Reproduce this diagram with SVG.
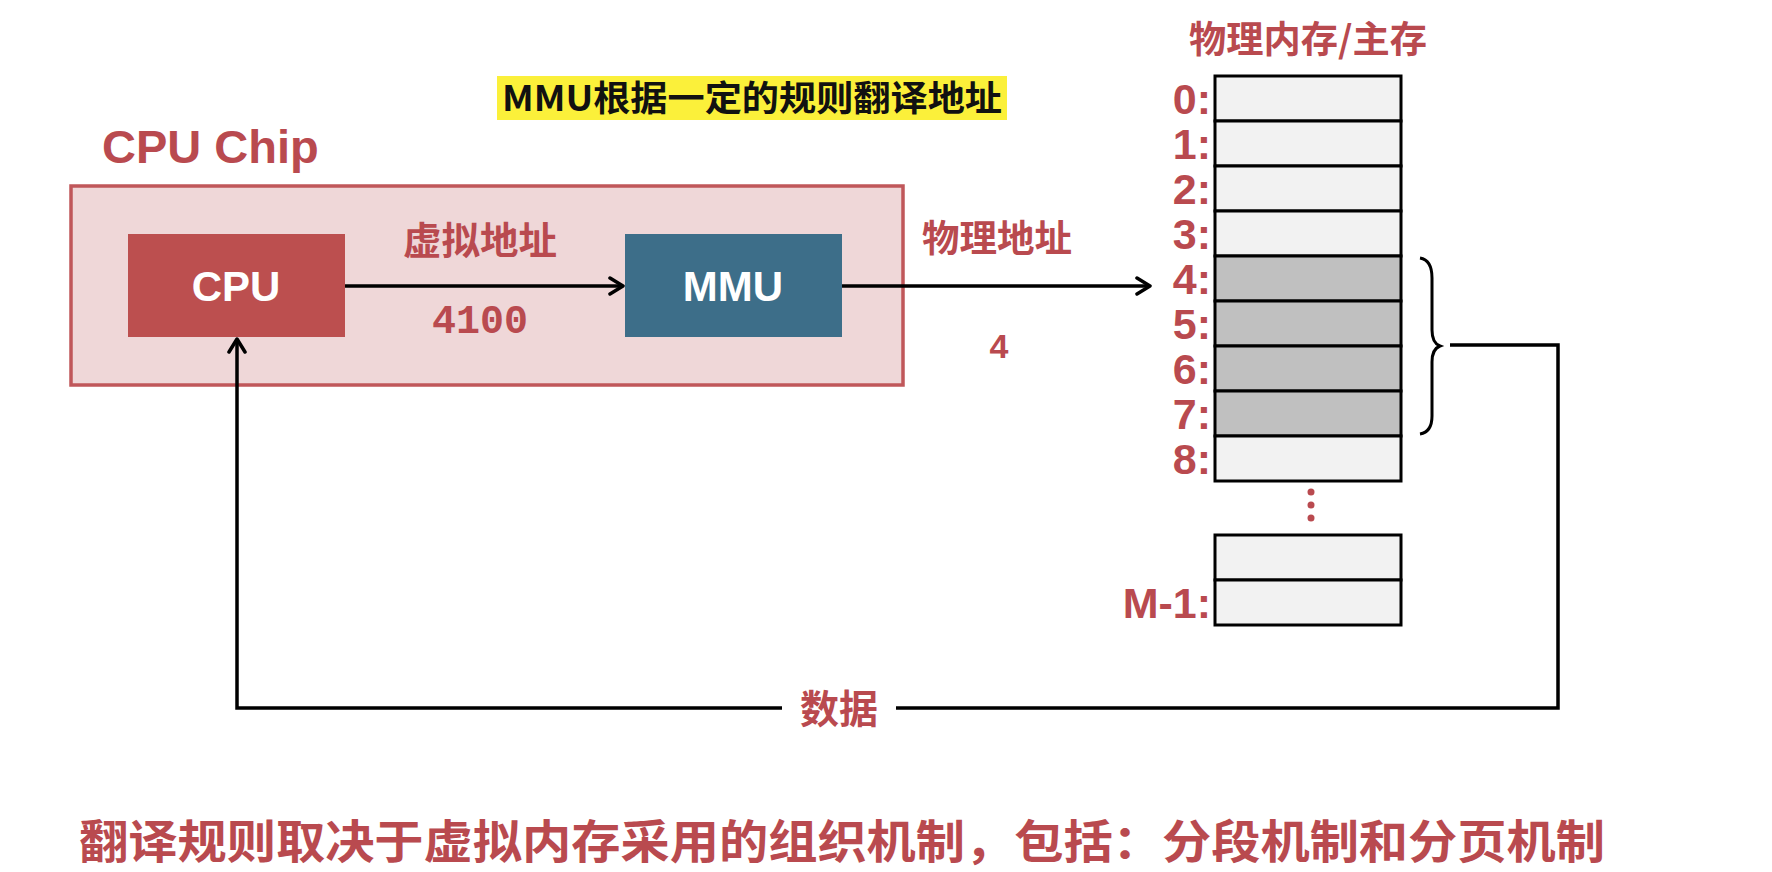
<svg xmlns="http://www.w3.org/2000/svg" width="1772" height="872" viewBox="0 0 1772 872">
<defs>
<style>
.red{fill:#b94a4f;font-family:"Liberation Sans","Noto Sans CJK SC",sans-serif;font-weight:bold}
.cjk{font-family:"Noto Sans CJK SC","Liberation Sans",sans-serif;font-weight:bold}
.w{fill:#ffffff;font-family:"Liberation Sans",sans-serif;font-weight:bold;font-size:42px}
.cell{fill:#f2f2f2;stroke:#000;stroke-width:3}
.gray{fill:#c0c0c0;stroke:#000;stroke-width:3}
.idx{fill:#b94a4f;font-family:"Liberation Sans",sans-serif;font-weight:bold;font-size:43px;text-anchor:end}
.ln{fill:none;stroke:#000;stroke-width:3.5}
</style>
<marker id="ah" viewBox="0 0 20 20" refX="17" refY="10" markerWidth="20" markerHeight="20" markerUnits="userSpaceOnUse" orient="auto">
<path d="M4,2 L17,10 L4,18" fill="none" stroke="#000" stroke-width="3.5" stroke-linecap="round" stroke-linejoin="round"/>
</marker>
</defs>
<rect width="1772" height="872" fill="#ffffff"/>

<g id="rule-note">
<rect x="497" y="76" width="510" height="44" fill="#fbf03a"/>
<text x="752" y="111" text-anchor="middle" class="cjk" font-size="35" fill="#111" textLength="500" lengthAdjust="spacingAndGlyphs">MMU根据一定的规则翻译地址</text>
</g>

<g id="cpu-chip">
<text x="102" y="163" class="red" font-size="47" font-weight="600">CPU Chip</text>
<rect x="71" y="186" width="832" height="199" fill="#efd7d8" stroke="#c0575a" stroke-width="3.5"/>
</g>

<g id="cpu">
<rect x="128" y="234" width="217" height="103" fill="#bc4f4f"/>
<text x="236" y="301" text-anchor="middle" class="w">CPU</text>
</g>

<g id="mmu">
<rect x="625" y="234" width="217" height="103" fill="#3d6e89"/>
<text x="733" y="301" text-anchor="middle" class="w">MMU</text>
</g>

<g id="memory">
<text x="1308" y="53" text-anchor="middle" class="cjk" font-size="37" fill="#b94a4f" textLength="238" lengthAdjust="spacingAndGlyphs">物理内存/主存</text>
<rect class="cell" x="1215" y="76" width="186" height="45"/>
<rect class="cell" x="1215" y="121" width="186" height="45"/>
<rect class="cell" x="1215" y="166" width="186" height="45"/>
<rect class="cell" x="1215" y="211" width="186" height="45"/>
<rect class="gray" x="1215" y="256" width="186" height="45"/>
<rect class="gray" x="1215" y="301" width="186" height="45"/>
<rect class="gray" x="1215" y="346" width="186" height="45"/>
<rect class="gray" x="1215" y="391" width="186" height="45"/>
<rect class="cell" x="1215" y="436" width="186" height="45"/>
<rect class="cell" x="1215" y="535" width="186" height="45"/>
<rect class="cell" x="1215" y="580" width="186" height="45"/>
<text class="idx" x="1211" y="114">0:</text>
<text class="idx" x="1211" y="159">1:</text>
<text class="idx" x="1211" y="204">2:</text>
<text class="idx" x="1211" y="249">3:</text>
<text class="idx" x="1211" y="294">4:</text>
<text class="idx" x="1211" y="339">5:</text>
<text class="idx" x="1211" y="384">6:</text>
<text class="idx" x="1211" y="429">7:</text>
<text class="idx" x="1211" y="474">8:</text>
<text class="idx" x="1211" y="618">M-1:</text>
<circle cx="1311" cy="492" r="3.5" fill="#b94a4f"/>
<circle cx="1311" cy="505" r="3.5" fill="#b94a4f"/>
<circle cx="1311" cy="518" r="3.5" fill="#b94a4f"/>
<path d="M1420,258 Q1432,260 1432,278 L1432,330 Q1432,343 1440,346 Q1432,349 1432,362 L1432,416 Q1432,432 1420,434" fill="none" stroke="#000" stroke-width="3"/>
</g>

<g id="connectors">
<line class="ln" x1="345" y1="286" x2="623" y2="286" marker-end="url(#ah)"/>
<line class="ln" x1="842" y1="286" x2="1150" y2="286" marker-end="url(#ah)"/>
<path class="ln" d="M1450,345 L1558,345 L1558,708 L896,708"/>
<path class="ln" d="M782,708 L237,708 L237,339" marker-end="url(#ah)"/>
</g>

<g id="labels">
<text x="480" y="254" text-anchor="middle" class="cjk" font-size="38" fill="#b94a4f" textLength="154" lengthAdjust="spacingAndGlyphs">虚拟地址</text>
<text x="480" y="333" text-anchor="middle" font-family="Liberation Mono,monospace" font-weight="bold" font-size="40" fill="#b94a4f">4100</text>
<text x="997" y="252" text-anchor="middle" class="cjk" font-size="37" fill="#b94a4f" textLength="150" lengthAdjust="spacingAndGlyphs">物理地址</text>
<text x="999" y="358" text-anchor="middle" class="red" font-size="34">4</text>
<text x="839" y="723" text-anchor="middle" class="cjk" font-size="39" fill="#b94a4f">数据</text>
</g>

<g id="footer">
<text x="79" y="858" class="cjk" font-size="46" fill="#b94a4f" textLength="1526" lengthAdjust="spacingAndGlyphs">翻译规则取决于虚拟内存采用的组织机制，包括：分段机制和分页机制</text>
</g>
</svg>
